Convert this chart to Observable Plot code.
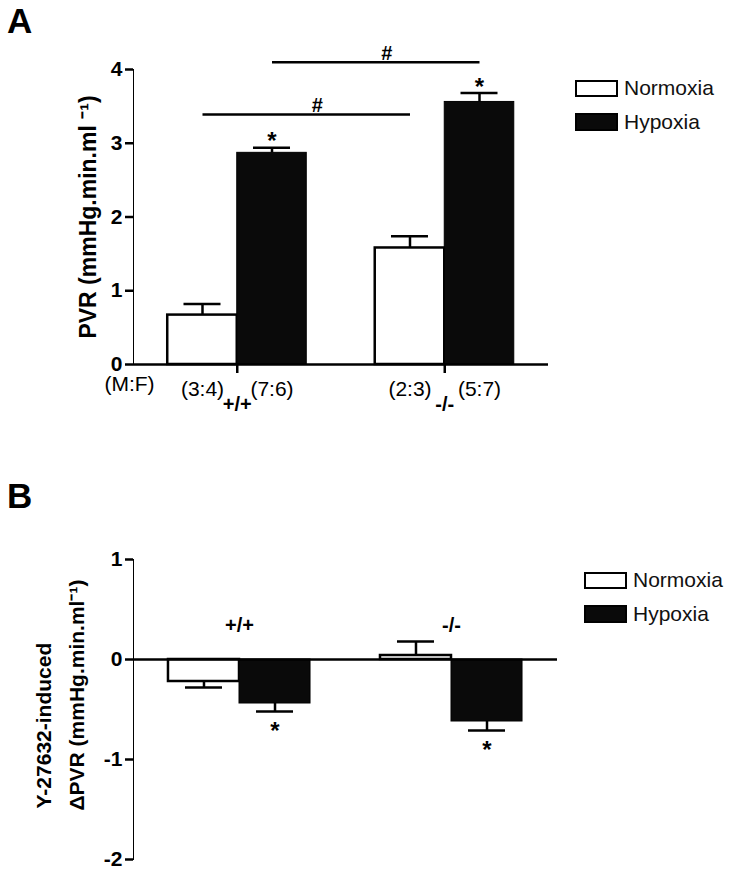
<!DOCTYPE html>
<html>
<head>
<meta charset="utf-8">
<script src="https://cdn.jsdelivr.net/npm/d3@7"></script>
<script src="https://cdn.jsdelivr.net/npm/@observablehq/plot@0.6"></script>
<style>
  body { margin: 0; background: #fff; font-family: "Liberation Sans", Arial, sans-serif; }
  #wrap { position: relative; width: 733px; height: 874px; overflow: hidden; background: #fff; }
  #pa, #pb { position: absolute; left: 0; }
  #pa { top: 0; }
  #pb { top: 440px; }
  .letter { position: absolute; left: 7px; font-weight: bold; font-size: 35px; line-height: 1; color: #000; }
  .legend { position: absolute; font-size: 21px; color: #111; }
  .legend .row { position: absolute; left: 0; display: flex; align-items: center; white-space: nowrap; height: 24px; }
  .legend .sw { width: 43px; height: 17px; box-sizing: border-box; border: 2.5px solid #000; margin-right: 6px; }
  #pa g[aria-label^="y-axis"] line, #pa g[aria-label^="y-axis"] path,
  #pa g[aria-label^="x-axis"] line, #pa g[aria-label^="x-axis"] path,
  #pb g[aria-label^="y-axis"] line, #pb g[aria-label^="y-axis"] path { stroke-width: 2.5px; stroke: #000; }
  #pa g[aria-label^="x-axis"] text { font-size: 20px; font-weight: bold; }
  #pa g[aria-label^="y-axis"] text, #pb g[aria-label^="y-axis"] text { font-size: 21px; font-weight: bold; }
</style>
</head>
<body>
<div id="wrap">
  <div id="pa"></div>
  <div id="pb"></div>
</div>
<script>
// ---------- data ----------
const groups = ["+/+", "-/-"];
const conditions = ["Normoxia", "Hypoxia"];
const conditionFill = ["white", "#0a0a0a"];

// Panel A: PVR (mmHg.min.ml-1)
const pvrNormoxia    = [0.67, 1.58];
const pvrNormoxiaSem = [0.15, 0.16];
const pvrHypoxia     = [2.87, 3.56];
const pvrHypoxiaSem  = [0.07, 0.12];
const starsANormoxia = ["", ""];
const starsAHypoxia  = ["*", "*"];
const sexRatioNormoxia = ["(3:4)", "(2:3)"];
const sexRatioHypoxia  = ["(7:6)", "(5:7)"];
const sexRatioTitle = "(M:F)";
const hashCondition = ["Normoxia", "Hypoxia"];   // +/+ vs -/- comparisons
const hashLevel     = [3.39, 4.10];
const yDomainA = [0, 4];
const yTicksA = [0, 1, 2, 3, 4];
const yLabelA = "PVR (mmHg.min.ml \u207B\u00B9)";

// Panel B: Y-27632-induced ΔPVR
const dpvrNormoxia    = [-0.22, 0.04];
const dpvrNormoxiaSem = [0.06, 0.14];
const dpvrHypoxia     = [-0.44, -0.62];
const dpvrHypoxiaSem  = [0.08, 0.09];
const starsBNormoxia = ["", ""];
const starsBHypoxia  = ["*", "*"];
const yDomainB = [-2, 1];
const yTicksB = [1, 0, -1, -2];
const yLabelB = ["Y-27632-induced", "\u0394PVR (mmHg.min.ml\u207B\u00B9)"];

// ---------- layout ----------
const W = 733, ML = 133;
const FONT = "'Liberation Sans', Arial, sans-serif";
const PI = 0.33, PO = 0.165;
const A = {height: 440, top: 69, bottom: 76, right: 185};
const B = {height: 434, top: 119, bottom: 15, right: 176};

function buildRows(nm, ns, hm, hs, nStar, hStar, nLab, hLab) {
  const out = [];
  groups.forEach((g, i) => {
    out.push({group: g, cond: conditions[0], mean: nm[i], sem: ns[i], star: nStar[i], label: nLab ? nLab[i] : ""});
    out.push({group: g, cond: conditions[1], mean: hm[i], sem: hs[i], star: hStar[i], label: hLab ? hLab[i] : ""});
  });
  return out;
}
const end = d => d.mean + (d.mean >= 0 ? 1 : -1) * d.sem;

function barMarks(rows, bw, starDy) {
  const q = bw / 4, half = bw / 2, cap = 18.5;
  const N = rows.filter(d => d.cond === conditions[0]);
  const H = rows.filter(d => d.cond === conditions[1]);
  return [
    Plot.barY(N, {x: "group", y1: 0, y2: "mean", fill: conditionFill[0], stroke: "#000", strokeWidth: 2.5, insetRight: half}),
    Plot.barY(H, {x: "group", y1: 0, y2: "mean", fill: conditionFill[1], stroke: "#000", strokeWidth: 1, insetLeft: half}),
    Plot.ruleX(N, {x: "group", y1: "mean", y2: end, dx: -q, strokeWidth: 2.5}),
    Plot.tickY(N, {x: "group", y: end, insetLeft: q - cap, insetRight: bw - q - cap, strokeWidth: 2.5}),
    Plot.ruleX(H, {x: "group", y1: "mean", y2: end, dx: q, strokeWidth: 2.5}),
    Plot.tickY(H, {x: "group", y: end, insetLeft: 3 * q - cap, insetRight: q - cap, strokeWidth: 2.5}),
    Plot.text(N.filter(d => d.star), {x: "group", y: end, text: "star", dx: -q, dy: starDy, fontSize: 24, fontWeight: "bold"}),
    Plot.text(H.filter(d => d.star), {x: "group", y: end, text: "star", dx: q, dy: starDy, fontSize: 24, fontWeight: "bold"})
  ];
}

// ---------- Panel A ----------
const xA = d3.scaleBand(groups, [ML, W - A.right]).paddingInner(PI).paddingOuter(PO);
const bwA = xA.bandwidth(), stepA = xA.step(), qA = bwA / 4;
const rowsA = buildRows(pvrNormoxia, pvrNormoxiaSem, pvrHypoxia, pvrHypoxiaSem,
                        starsANormoxia, starsAHypoxia, sexRatioNormoxia, sexRatioHypoxia);
const hashRows = hashCondition.map((c, i) => ({cond: c, level: hashLevel[i]}));

const plotA = Plot.plot({
  width: W, height: A.height,
  marginTop: A.top, marginBottom: A.bottom, marginLeft: ML, marginRight: A.right,
  style: {fontFamily: FONT, fontSize: "20px", fontWeight: "bold", color: "#000", background: "#fff", overflow: "visible"},
  x: {domain: groups, paddingInner: PI, paddingOuter: PO, round: false, tickSize: 9, tickPadding: 23, label: null},
  y: {domain: yDomainA, ticks: yTicksA, tickFormat: d => String(d), tickSize: 8, tickPadding: 3, label: null, line: true},
  marks: [
    ...barMarks(rowsA, bwA, -6),
    Plot.ruleY([0], {strokeWidth: 2.5}),
    // significance (#) brackets between genotypes
    ...hashRows.map(h => {
      const off = h.cond === conditions[0] ? -qA : qA;
      return [
        Plot.link([h], {x1: () => groups[0], x2: () => groups[1], y1: "level", y2: "level", dx: off, strokeWidth: 2.5}),
        Plot.text([h], {x: () => groups[0], y: "level", text: () => "#", dx: stepA / 2 + off + 11, dy: -9, fontSize: 20, fontWeight: "bold"})
      ];
    }).flat(),
    // (M:F) ratios under each bar
    Plot.text(rowsA.filter(d => d.cond === conditions[0]), {x: "group", y: 0, text: "label", dx: -qA, dy: 25, fontSize: 21, fontWeight: "normal"}),
    Plot.text(rowsA.filter(d => d.cond === conditions[1]), {x: "group", y: 0, text: "label", dx: qA, dy: 25, fontSize: 21, fontWeight: "normal"}),
    Plot.text([sexRatioTitle], {frameAnchor: "bottom-left", textAnchor: "middle", text: d => d, dx: -4, dy: 26, fontSize: 21, fontWeight: "normal"}),
    // y label
    Plot.text([yLabelA], {frameAnchor: "left", textAnchor: "middle", text: d => d, rotate: -90, dx: -45, fontSize: 23, fontWeight: "bold"})
  ]
});
document.getElementById("pa").appendChild(plotA);

// ---------- Panel B ----------
const xB = d3.scaleBand(groups, [ML, W - B.right]).paddingInner(PI).paddingOuter(PO);
const bwB = xB.bandwidth();
const rowsB = buildRows(dpvrNormoxia, dpvrNormoxiaSem, dpvrHypoxia, dpvrHypoxiaSem, starsBNormoxia, starsBHypoxia);

const plotB = Plot.plot({
  width: W, height: B.height,
  marginTop: B.top, marginBottom: B.bottom, marginLeft: ML, marginRight: B.right,
  style: {fontFamily: FONT, fontSize: "20px", fontWeight: "bold", color: "#000", background: "#fff", overflow: "visible"},
  x: {domain: groups, paddingInner: PI, paddingOuter: PO, round: false, axis: null},
  y: {domain: yDomainB, ticks: yTicksB, tickFormat: d => String(d), tickSize: 8, tickPadding: 3, label: null, line: true},
  marks: [
    ...barMarks(rowsB, bwB, 20),
    Plot.ruleY([0], {strokeWidth: 2.5}),
    Plot.text(groups, {x: d => d, y: 0, text: d => d, dy: -34, fontSize: 20, fontWeight: "bold"}),
    Plot.text([yLabelB[0]], {frameAnchor: "bottom-left", rotate: -90, textAnchor: "start", text: d => d,
      dx: -83, dy: -51, fontSize: 21, fontWeight: "bold"}),
    Plot.text([yLabelB[1]], {frameAnchor: "bottom-left", rotate: -90, textAnchor: "start", text: d => d,
      dx: -50, dy: -49, fontSize: 21, fontWeight: "bold"})
  ]
});
document.getElementById("pb").appendChild(plotB);

// ---------- panel letters & legends ----------
const wrap = document.getElementById("wrap");
function letter(t, top) {
  const d = document.createElement("div");
  d.className = "letter"; d.textContent = t; d.style.top = top + "px";
  wrap.appendChild(d);
}
letter("A", 3);
letter("B", 478);

function legend(left, top, gap) {
  const lg = document.createElement("div");
  lg.className = "legend"; lg.style.left = left + "px"; lg.style.top = top + "px";
  conditions.forEach((c, i) => {
    const r = document.createElement("div");
    r.className = "row"; r.style.top = (i * gap) + "px";
    const sw = document.createElement("div");
    sw.className = "sw"; sw.style.background = conditionFill[i];
    if (i === 1) sw.style.height = "18px";
    const tx = document.createElement("span"); tx.textContent = c;
    r.appendChild(sw); r.appendChild(tx); lg.appendChild(r);
  });
  wrap.appendChild(lg);
}
legend(575, 76, 34);
legend(584, 568, 34);
</script>
</body>
</html>
